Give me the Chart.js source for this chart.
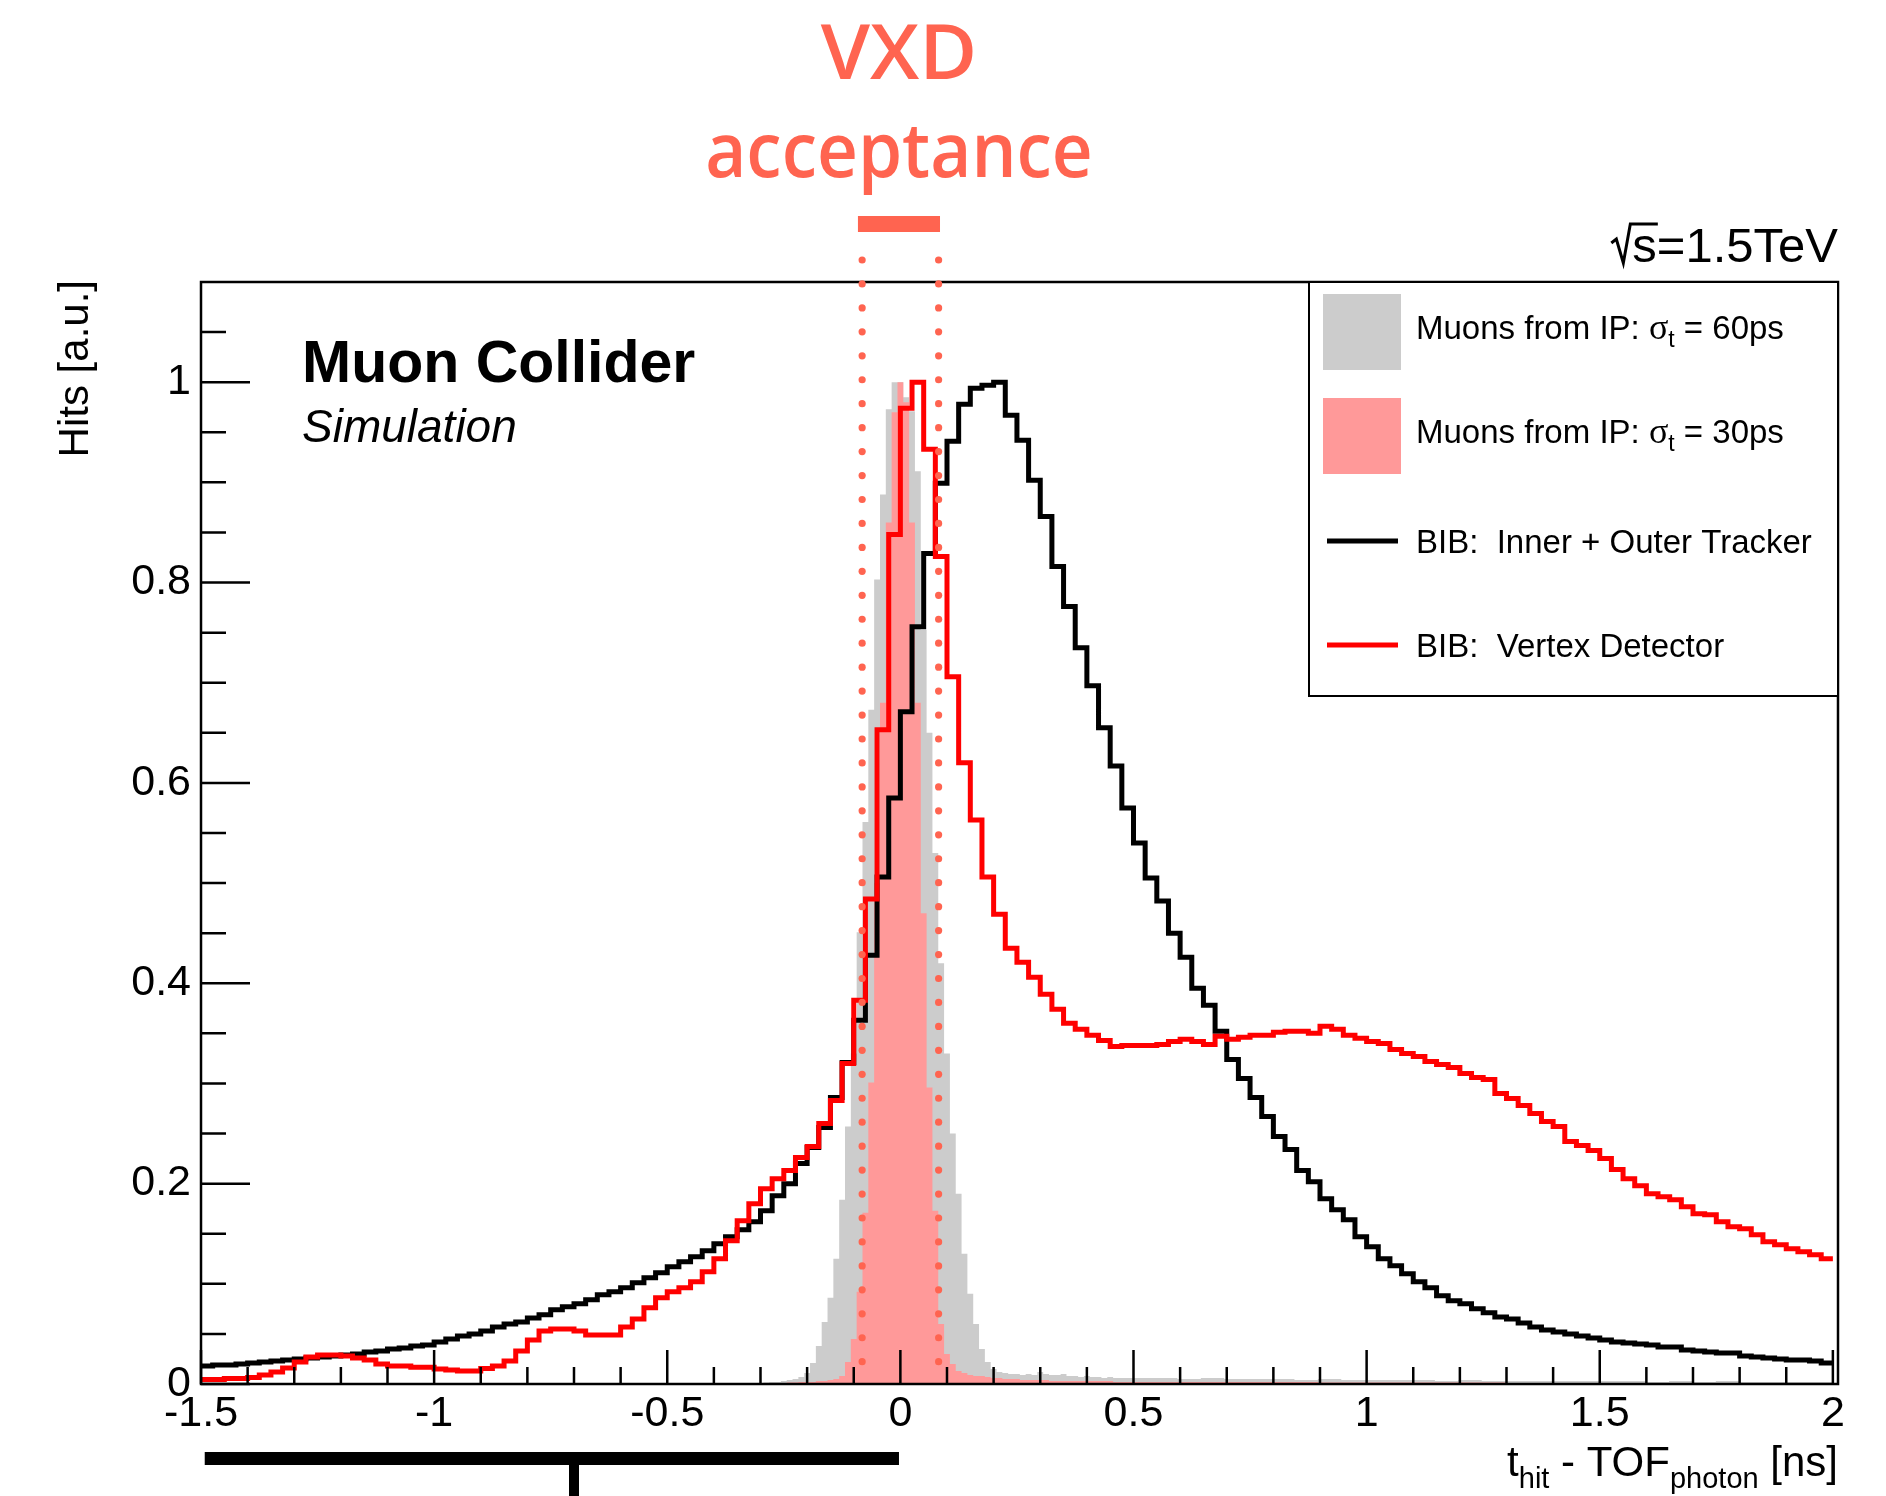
<!DOCTYPE html>
<html>
<head>
<meta charset="utf-8">
<script src="https://cdn.jsdelivr.net/npm/chart.js@4.4.1/dist/chart.umd.min.js"></script>
<style>
html,body{margin:0;padding:0;background:#ffffff;}
#wrap{width:1886px;height:1496px;position:relative;background:#ffffff;}
canvas{display:block;}
</style>
</head>
<body>
<div id="wrap"><canvas id="c" width="1886" height="1496"></canvas></div>
<script>
// ---------------- DATA ----------------
// BIB histograms: 140 bins of 0.025 ns from -1.5 to 2.0
const bibBinStart = -1.5;
const bibBinWidth = 0.025;
const bibTracker = [
 0.018,0.019,0.019,0.020,0.021,0.022,0.023,0.024,0.025,0.026,
 0.027,0.028,0.029,0.030,0.032,0.033,0.035,0.036,0.038,0.039,
 0.042,0.045,0.048,0.050,0.053,0.057,0.060,0.062,0.066,0.069,
 0.074,0.077,0.080,0.084,0.089,0.092,0.096,0.101,0.106,0.111,
 0.117,0.122,0.127,0.133,0.140,0.147,0.154,0.162,0.173,0.188,
 0.200,0.220,0.236,0.256,0.286,0.321,0.363,0.428,0.506,0.585,
 0.671,0.756,0.829,0.899,0.941,0.978,0.994,0.997,1.000,0.967,
 0.942,0.902,0.866,0.816,0.776,0.735,0.697,0.655,0.617,0.575,
 0.540,0.505,0.482,0.450,0.426,0.395,0.378,0.352,0.324,0.305,
 0.286,0.267,0.247,0.234,0.213,0.202,0.185,0.174,0.164,0.147,
 0.137,0.125,0.118,0.110,0.102,0.096,0.088,0.083,0.080,0.075,
 0.071,0.067,0.065,0.061,0.057,0.054,0.052,0.050,0.048,0.046,
 0.044,0.042,0.041,0.040,0.039,0.037,0.037,0.034,0.033,0.032,
 0.031,0.031,0.028,0.027,0.026,0.025,0.024,0.024,0.023,0.021];
const bibVertex = [
 0.0046,0.0046,0.0056,0.0056,0.0066,0.009,0.012,0.016,0.022,0.027,
 0.029,0.029,0.028,0.026,0.024,0.020,0.018,0.018,0.0166,0.0166,
 0.015,0.014,0.013,0.013,0.0155,0.018,0.023,0.033,0.044,0.053,
 0.055,0.055,0.053,0.049,0.049,0.049,0.057,0.065,0.076,0.086,
 0.092,0.096,0.102,0.112,0.125,0.143,0.163,0.180,0.195,0.205,
 0.213,0.226,0.237,0.260,0.283,0.320,0.383,0.484,0.653,0.848,
 0.974,1.000,0.933,0.826,0.706,0.620,0.563,0.506,0.469,0.435,
 0.421,0.406,0.389,0.374,0.360,0.354,0.348,0.343,0.337,0.338,
 0.338,0.338,0.339,0.342,0.344,0.342,0.339,0.347,0.344,0.346,
 0.348,0.348,0.351,0.352,0.352,0.350,0.357,0.354,0.348,0.345,
 0.342,0.340,0.334,0.330,0.327,0.322,0.319,0.316,0.310,0.306,
 0.304,0.290,0.285,0.278,0.270,0.262,0.257,0.242,0.238,0.233,
 0.225,0.214,0.205,0.198,0.190,0.187,0.184,0.177,0.170,0.169,
 0.162,0.157,0.155,0.149,0.142,0.139,0.135,0.132,0.129,0.125];

// Muons from IP: fine bins of 0.0125 ns (centred on multiples of 0.0125) from -0.30625 to 0.49375
const muonCoreStart = -0.30625;
const muonCoreWidth = 0.0125;
const muons60Core = [
 0.001,0.0015,0.002,0.002,0.003,0.004,0.005,0.007,0.011,0.021,
 0.038,0.062,0.086,0.125,0.184,0.257,0.330,0.451,0.561,0.673,
 0.803,0.888,0.973,1.000,1.000,0.985,0.971,0.911,0.753,0.650,
 0.530,0.420,0.330,0.250,0.190,0.130,0.090,0.060,0.035,0.022,
 0.015,0.012,0.011,0.010,0.010,0.009,0.010,0.009,0.012,0.010,
 0.009,0.009,0.010,0.008,0.008,0.007,0.008,0.007,0.007,0.006,
 0.007,0.006,0.006,0.006];
const muons30Core = [
 0.0005,0.0005,0.001,0.001,0.001,0.0015,0.0015,0.002,0.002,0.002,
 0.003,0.003,0.004,0.005,0.008,0.022,0.045,0.092,0.171,0.301,
 0.500,0.680,0.860,0.970,1.000,0.980,0.860,0.680,0.470,0.296,
 0.173,0.060,0.030,0.020,0.013,0.011,0.009,0.008,0.008,0.007,
 0.006,0.006,0.005,0.005,0.005,0.004,0.004,0.004,0.004,0.004,
 0.003,0.003,0.003,0.003,0.003,0.003,0.003,0.003,0.003,0.003,
 0.003,0.002,0.002,0.002];
// tails: 30 coarse bins from 0.49375 to 2.0
const muonTailStart = 0.49375;
const muonTailEnd = 2.0;
const muons60Tail = [0.006,0.006,0.005,0.006,0.005,0.005,0.005,0.004,0.005,0.004,
 0.004,0.004,0.004,0.003,0.004,0.003,0.003,0.003,0.003,0.003,
 0.003,0.003,0.002,0.003,0.002,0.003,0.002,0.002,0.002,0.002];
const muons30Tail = [0.002,0.002,0.002,0.002,0.002,0.002,0.002,0.002,0.0015,0.0015,
 0.0015,0.0015,0.0015,0.0015,0.0015,0.0015,0.001,0.001,0.001,0.001,
 0.001,0.001,0.001,0.001,0.001,0.001,0.001,0.001,0.001,0.001];

// axes
const xTickValues = [-1.5,-1,-0.5,0,0.5,1,1.5,2];
const xTickLabels = ['-1.5','-1','-0.5','0','0.5','1','1.5','2'];
const yTickValues = [0,0.2,0.4,0.6,0.8,1];
const yTickLabels = ['0','0.2','0.4','0.6','0.8','1'];
const xRange = [-1.5, 2.011];
const yRange = [0, 1.1];

// annotations (in data units)
const acceptanceWindow = [-0.082, 0.082];
const acceptanceBar = [-0.091, 0.085];
const bottomBar = [-1.492, -0.003];
const bottomBarStem = -0.7;

const legendEntries = [
  {pre:'Muons from IP: ', sigma:true, post:' = 60ps', kind:'box', color:'#cccccc'},
  {pre:'Muons from IP: ', sigma:true, post:' = 30ps', kind:'box', color:'#ff9999'},
  {pre:'BIB:  Inner + Outer Tracker', kind:'line', color:'#000000'},
  {pre:'BIB:  Vertex Detector', kind:'line', color:'#ff0000'}
];

// ---------------- HELPERS ----------------
function stepPoints(segments) {
  const pts = [];
  let last = 0, endX = 0;
  segments.forEach(seg => {
    seg.values.forEach((v, i) => { pts.push({x: seg.start + i * seg.width, y: v}); last = v; });
    endX = seg.start + seg.values.length * seg.width;
  });
  pts.push({x: endX, y: last});
  return pts;
}
const tailWidth = (muonTailEnd - muonTailStart) / muons60Tail.length;

const ROOTFONT = "'Liberation Sans', Arial, Helvetica, sans-serif";
Chart.defaults.font.family = ROOTFONT;
Chart.defaults.color = '#000';

// ---------------- OVERLAY PLUGIN ----------------
const overlay = {
  id: 'overlay',
  afterDatasetsDraw(chart) {
    const ctx = chart.ctx;
    const a = chart.chartArea;
    const xs = chart.scales.x, ys = chart.scales.y;
    ctx.save();
    // ticks (drawn inside the frame)
    ctx.strokeStyle = '#000'; ctx.lineWidth = 2.5; ctx.lineCap = 'butt';
    ctx.beginPath();
    for (let i = -15; i <= 20; i++) {
      const px = xs.getPixelForValue(i / 10);
      const L = (i % 5 === 0) ? 34 : 17;
      ctx.moveTo(px, a.bottom); ctx.lineTo(px, a.bottom - L);
    }
    for (let i = 0; i <= 21; i++) {
      const py = ys.getPixelForValue(i * 0.05);
      const L = (i % 4 === 0) ? 49 : 25;
      ctx.moveTo(a.left, py); ctx.lineTo(a.left + L, py);
    }
    ctx.stroke();
    // frame
    ctx.lineWidth = 2.5;
    ctx.strokeRect(a.left, a.top, a.right - a.left, a.bottom - a.top);

    // legend box
    const lx0 = 1309, ly0 = a.top, lx1 = a.right, ly1 = 696;
    ctx.fillStyle = '#fff';
    ctx.fillRect(lx0, ly0, lx1 - lx0, ly1 - ly0);
    ctx.lineWidth = 2;
    ctx.strokeStyle = '#000';
    ctx.strokeRect(lx0, ly0, lx1 - lx0, ly1 - ly0);
    const rowCenters = [332, 436, 541, 645];
    legendEntries.forEach((e, k) => {
      const cy = rowCenters[k];
      if (e.kind === 'box') {
        ctx.fillStyle = e.color;
        ctx.fillRect(1323, cy - 38, 78, 76);
      } else {
        ctx.strokeStyle = e.color; ctx.lineWidth = 5;
        ctx.beginPath(); ctx.moveTo(1327, cy); ctx.lineTo(1398, cy); ctx.stroke();
      }
      ctx.fillStyle = '#000';
      ctx.textBaseline = 'alphabetic'; ctx.textAlign = 'left';
      let x = 1416; const base = cy + (e.kind === 'box' ? 7 : 12);
      ctx.font = '33px ' + ROOTFONT;
      ctx.fillText(e.pre, x, base); x += ctx.measureText(e.pre).width;
      if (e.sigma) {
        ctx.font = "36px 'Liberation Serif', 'Times New Roman', serif";
        ctx.fillText('\u03C3', x, base); x += ctx.measureText('\u03C3').width;
        ctx.font = '23px ' + ROOTFONT;
        ctx.fillText('t', x, base + 8); x += ctx.measureText('t').width;
        ctx.font = '33px ' + ROOTFONT;
        ctx.fillText(e.post, x, base);
      }
    });

    // VXD acceptance dotted lines
    ctx.fillStyle = '#ff6450';
    acceptanceWindow.forEach(v => {
      const px = xs.getPixelForValue(v);
      for (let k = 0; k < 47; k++) {
        const py = 260 + k * 23.95;
        ctx.beginPath(); ctx.arc(px, py, 3.6, 0, Math.PI * 2); ctx.fill();
      }
    });
    // acceptance bar
    const bx0 = xs.getPixelForValue(acceptanceBar[0]), bx1 = xs.getPixelForValue(acceptanceBar[1]);
    ctx.fillRect(bx0, 216, bx1 - bx0, 16);
    // VXD text
    const cx = (bx0 + bx1) / 2;
    ctx.textAlign = 'center';
    ctx.font = "600 76px 'Open Sans', Lato, 'DejaVu Sans', sans-serif";
    ctx.save(); ctx.translate(cx, 79); ctx.scale(1.04, 1);
    ctx.fillText('VXD', 0, 0); ctx.restore();
    ctx.save(); ctx.translate(cx, 177); ctx.scale(0.935, 1);
    ctx.fillText('acceptance', 0, 0); ctx.restore();

    // Muon Collider / Simulation
    ctx.fillStyle = '#000';
    ctx.textAlign = 'left';
    ctx.font = 'bold 59px ' + ROOTFONT;
    ctx.fillText('Muon Collider', 302, 382);
    ctx.font = 'italic 46px ' + ROOTFONT;
    ctx.fillText('Simulation', 302, 442);

    // sqrt(s) = 1.5 TeV
    ctx.font = '49px ' + ROOTFONT;
    ctx.textAlign = 'right';
    const rest = '=1.5TeV';
    ctx.fillText(rest, a.right, 262);
    const wRest = ctx.measureText(rest).width;
    const wS = ctx.measureText('s').width;
    const sx = a.right - wRest - wS;
    ctx.textAlign = 'left';
    ctx.fillText('s', sx, 262);
    // radical sign
    ctx.strokeStyle = '#000'; ctx.lineWidth = 3; ctx.lineJoin = 'miter';
    ctx.beginPath();
    ctx.moveTo(sx - 21, 243); ctx.lineTo(sx - 16, 239); ctx.lineTo(sx - 9, 263);
    ctx.lineTo(sx - 2, 224); ctx.lineTo(sx + wS + 1, 224);
    ctx.stroke();

    // axis titles
    ctx.fillStyle = '#000';
    ctx.font = '42px ' + ROOTFONT;
    ctx.save();
    ctx.translate(88, 280); ctx.rotate(-Math.PI / 2);
    ctx.textAlign = 'right';
    ctx.fillText('Hits [a.u.]', 0, 0);
    ctx.restore();
    // x title with subscripts, right aligned
    const parts = [
      {t:'t', sub:false}, {t:'hit', sub:true}, {t:' - TOF', sub:false},
      {t:'photon', sub:true}, {t:' [ns]', sub:false}
    ];
    const fMain = '42px ' + ROOTFONT, fSub = '29px ' + ROOTFONT;
    let total = 0;
    parts.forEach(p => { ctx.font = p.sub ? fSub : fMain; p.w = ctx.measureText(p.t).width; total += p.w; });
    let tx = a.right - total;
    ctx.textAlign = 'left';
    parts.forEach(p => { ctx.font = p.sub ? fSub : fMain; ctx.fillText(p.t, tx, p.sub ? 1476 + 12 : 1476); tx += p.w; });

    // bottom black bar
    const bb0 = xs.getPixelForValue(bottomBar[0]), bb1 = xs.getPixelForValue(bottomBar[1]);
    ctx.fillRect(bb0, 1452, bb1 - bb0, 13);
    const st = xs.getPixelForValue(bottomBarStem);
    ctx.fillRect(st - 5, 1465, 10, 31);
    ctx.restore();
  }
};

// ---------------- CHART ----------------
const ctx = document.getElementById('c').getContext('2d');
new Chart(ctx, {
  type: 'line',
  data: {
    datasets: [
      { label: 'BIB: Vertex Detector',
        data: stepPoints([{start: bibBinStart, width: bibBinWidth, values: bibVertex}]),
        borderColor: '#ff0000', borderWidth: 5, stepped: 'before', pointRadius: 0, fill: false, order: 0 },
      { label: 'BIB: Inner + Outer Tracker',
        data: stepPoints([{start: bibBinStart, width: bibBinWidth, values: bibTracker}]),
        borderColor: '#000000', borderWidth: 5, stepped: 'before', pointRadius: 0, fill: false, order: 1 },
      { label: 'Muons from IP 30ps',
        data: stepPoints([{start: muonCoreStart, width: muonCoreWidth, values: muons30Core},
                          {start: muonTailStart, width: tailWidth, values: muons30Tail}]),
        borderWidth: 0, borderColor: 'rgba(0,0,0,0)', backgroundColor: '#ff9999',
        stepped: 'before', pointRadius: 0, fill: 'origin', order: 2 },
      { label: 'Muons from IP 60ps',
        data: stepPoints([{start: muonCoreStart, width: muonCoreWidth, values: muons60Core},
                          {start: muonTailStart, width: tailWidth, values: muons60Tail}]),
        borderWidth: 0, borderColor: 'rgba(0,0,0,0)', backgroundColor: '#cccccc',
        stepped: 'before', pointRadius: 0, fill: 'origin', order: 3 }
    ]
  },
  options: {
    responsive: false,
    animation: false,
    devicePixelRatio: 1,
    layout: { padding: { left: 0, right: 48, top: 282, bottom: 0 } },
    plugins: { legend: { display: false }, tooltip: { enabled: false } },
    elements: { line: { tension: 0 } },
    scales: {
      x: {
        type: 'linear', min: xRange[0], max: xRange[1],
        grid: { display: false, drawTicks: false }, border: { display: false },
        afterBuildTicks: s => { s.ticks = xTickValues.map(v => ({ value: v })); },
        afterFit: s => { s.height = 112; },
        ticks: { autoSkip: false, maxRotation: 0, minRotation: 0, padding: 4, color: '#000',
                 font: { size: 43, family: ROOTFONT },
                 callback: (v, i) => xTickLabels[i] }
      },
      y: {
        type: 'linear', min: yRange[0], max: yRange[1],
        grid: { display: false, drawTicks: false }, border: { display: false },
        afterBuildTicks: s => { s.ticks = yTickValues.map(v => ({ value: v })); },
        afterFit: s => { s.width = 201; },
        ticks: { autoSkip: false, padding: 10, color: '#000',
                 font: { size: 43, family: ROOTFONT },
                 callback: (v, i) => yTickLabels[i] }
      }
    }
  },
  plugins: [overlay]
});
</script>
</body>
</html>
